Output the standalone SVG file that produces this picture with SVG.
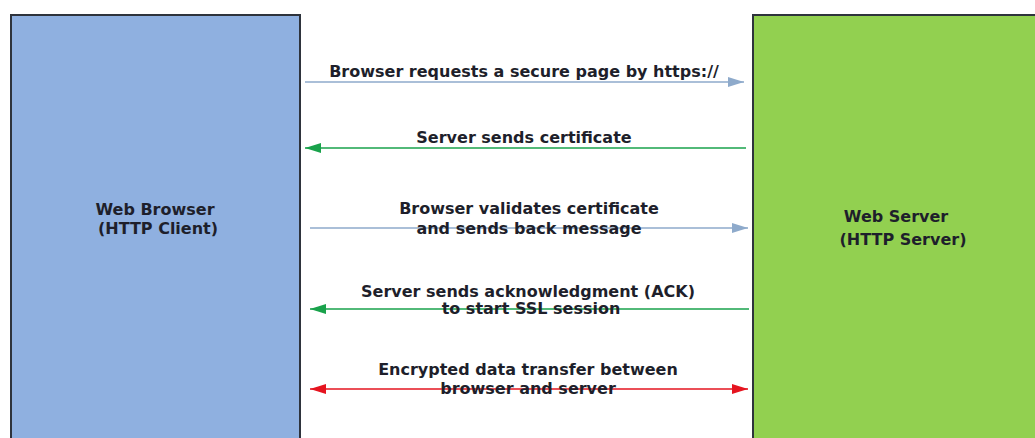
<svg xmlns="http://www.w3.org/2000/svg" width="1035" height="438" viewBox="0 0 1035 438">
<defs>
<style>
text{font-family:"DejaVu Sans","Liberation Sans",sans-serif;font-weight:bold;font-size:16px;fill:#1e1f2b;text-anchor:middle}
.node{stroke:#2e333c;stroke-width:2}
.c{fill:none;stroke-width:1.6}
.blue{stroke:#8eaacb}
.green{stroke:#19a24b}
.red{stroke:#e5141f}
</style>
<marker id="ab" markerUnits="userSpaceOnUse" markerWidth="17" markerHeight="10" refX="16" refY="5" orient="auto"><path d="M0,0 L16,5 L0,10 Z" fill="#8eaacb"/></marker>
<marker id="ag" markerUnits="userSpaceOnUse" markerWidth="17" markerHeight="10" refX="16" refY="5" orient="auto"><path d="M0,0 L16,5 L0,10 Z" fill="#19a24b"/></marker>
<marker id="ar" markerUnits="userSpaceOnUse" markerWidth="17" markerHeight="10" refX="16" refY="5" orient="auto-start-reverse"><path d="M0,0 L16,5 L0,10 Z" fill="#e5141f"/></marker>
</defs>
<rect width="1035" height="438" fill="#ffffff"/>
<g id="browser">
<rect class="node" x="11" y="15" width="289" height="440" fill="#8fb0e0"/>
<text x="155" y="215">Web Browser</text>
<text x="158" y="234">(HTTP Client)</text>
</g>
<g id="server">
<rect class="node" x="753" y="15" width="300" height="440" fill="#92d050"/>
<text x="896" y="222">Web Server</text>
<text x="903" y="245">(HTTP Server)</text>
</g>
<g id="connectors">
<line class="c blue" x1="305" y1="82" x2="744" y2="82" marker-end="url(#ab)"/>
<line class="c green" x1="746" y1="148" x2="305" y2="148" marker-end="url(#ag)"/>
<line class="c blue" x1="310" y1="228" x2="748" y2="228" marker-end="url(#ab)"/>
<line class="c green" x1="749" y1="309" x2="310" y2="309" marker-end="url(#ag)"/>
<line class="c red" x1="310" y1="389" x2="748" y2="389" marker-start="url(#ar)" marker-end="url(#ar)"/>
</g>
<g id="labels">
<text x="524" y="77">Browser requests a secure page by https://</text>
<text x="524" y="143">Server sends certificate</text>
<text x="529" y="214">Browser validates certificate</text>
<text x="529" y="234">and sends back message</text>
<text x="528" y="297">Server sends acknowledgment (ACK)</text>
<text x="531" y="314">to start SSL session</text>
<text x="528" y="375">Encrypted data transfer between</text>
<text x="528" y="394">browser and server</text>
</g>
</svg>
